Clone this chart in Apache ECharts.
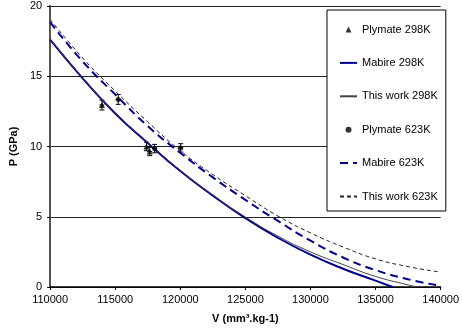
<!DOCTYPE html>
<html>
<head>
<meta charset="utf-8">
<script src="https://cdn.jsdelivr.net/npm/echarts@6/dist/echarts.min.js"></script>
<style>
  html, body { margin: 0; padding: 0; background: #fff; }
  #chart { width: 462px; height: 335px; }
</style>
</head>
<body>
<div id="chart"></div>
<script>
// P (GPa) against specific volume V (mm3/kg)
const xTicks = [110000, 115000, 120000, 125000, 130000, 135000, 140000];
const yTicks = [0, 5, 10, 15, 20];

// experimental points: [V, P, error in P]
const plymate298 = [[113980, 12.95, 0.35], [117400, 10.0, 0.3], [117650, 9.65, 0.3]];
const plymate623 = [[115230, 13.35, 0.35], [118030, 9.85, 0.3], [120030, 9.9, 0.3]];

const mabire298 = [
  [110000, 17.6], [112500, 14.85], [115000, 12.35], [117500, 10.25], [120000, 8.25],
  [122500, 6.5], [125000, 4.9], [127500, 3.5], [130000, 2.3], [132500, 1.3],
  [135000, 0.45], [136300, 0]
];
const thisWork298 = [
  [110000, 17.65], [112500, 14.9], [115000, 12.4], [117500, 10.3], [120000, 8.3],
  [122500, 6.55], [125000, 4.98], [127500, 3.62], [130000, 2.5], [132500, 1.6],
  [135000, 0.75], [137500, 0.15], [138200, 0]
];
const mabire623 = [
  [110000, 18.85], [112500, 16.05], [115000, 13.7], [117500, 11.45], [120000, 9.55],
  [122500, 7.8], [125000, 6.2], [127500, 4.7], [130000, 3.3], [132500, 2.1],
  [135000, 1.2], [137500, 0.55], [140000, 0.08]
];
const thisWork623 = [
  [110000, 19.05], [112500, 16.3], [115000, 13.95], [117500, 11.75], [120000, 9.7],
  [122500, 8.0], [125000, 6.5], [127500, 5.05], [130000, 3.85], [132500, 2.85],
  [135000, 2.0], [137500, 1.45], [140000, 1.06]
];

const legendNames = ["Plymate 298K", "Mabire 298K", "This work 298K", "Plymate 623K", "Mabire 623K", "This work 623K"];
const legendIcons = { "Plymate 298K": "path://M0,6L3,0L6,6Z", "Plymate 623K": "circle" };

const blue = "#000090";
const font = "Liberation Sans, Arial, sans-serif";

// vertical error bars with small caps
function errorBars(data) {
  return {
    type: "custom",
    silent: true,
    data: data,
    encode: { x: 0, y: 1 },
    renderItem: (params, api) => {
      const v = api.value(0);
      const p = api.value(1);
      const e = api.value(2);
      const top = api.coord([v, p + e]);
      const bot = api.coord([v, p - e]);
      const mid = api.coord([v, p]);
      const style = { stroke: "#000", lineWidth: 1 };
      return {
        type: "group",
        children: [
          { type: "line", shape: { x1: top[0], y1: top[1], x2: bot[0], y2: bot[1] }, style },
          { type: "line", shape: { x1: top[0] - 2.5, y1: top[1], x2: top[0] + 2.5, y2: top[1] }, style },
          { type: "line", shape: { x1: bot[0] - 2.5, y1: bot[1], x2: bot[0] + 2.5, y2: bot[1] }, style },
          { type: "line", shape: { x1: mid[0] - 2.5, y1: mid[1], x2: mid[0] + 2.5, y2: mid[1] }, style }
        ]
      };
    },
    z: 3
  };
}

const chart = echarts.init(document.getElementById("chart"));

chart.setOption({
  animation: false,
  textStyle: { fontFamily: font },
  grid: { left: 47, right: 17, top: 6, bottom: 48 },
  legend: {
    // line entries: hide the marker that echarts puts in the middle of the line icon
    data: legendNames.map(n => legendIcons[n] ? { name: n, icon: legendIcons[n] } : { name: n, itemStyle: { opacity: 0 } }),
    orient: "vertical",
    left: 327,
    top: 10,
    itemWidth: 17,
    itemHeight: 6,
    itemGap: 22.4,
    symbolKeepAspect: true,
    padding: [14, 8, 9, 12],
    backgroundColor: "#fff",
    borderColor: "#000",
    borderWidth: 1,
    textStyle: { fontSize: 11, color: "#000", fontFamily: font },
    selectedMode: false
  },
  xAxis: {
    type: "value",
    min: xTicks[0],
    max: xTicks[xTicks.length - 1],
    interval: 5000,
    name: "V (mm³.kg-1)",
    nameLocation: "middle",
    nameGap: 26,
    nameTextStyle: { fontWeight: "bold", fontSize: 11, color: "#000", fontFamily: font },
    axisLine: { lineStyle: { color: "#000", width: 1.5 } },
    axisTick: { length: 3, lineStyle: { color: "#000" } },
    axisLabel: { fontSize: 11, color: "#000", margin: 7, fontFamily: font, formatter: v => String(v) },
    splitLine: { show: false }
  },
  yAxis: {
    type: "value",
    min: yTicks[0],
    max: yTicks[yTicks.length - 1],
    interval: 5,
    name: "P (GPa)",
    nameLocation: "middle",
    nameGap: 31,
    nameTextStyle: { fontWeight: "bold", fontSize: 11, color: "#000", fontFamily: font },
    axisLine: { show: true, lineStyle: { color: "#555", width: 2 } },
    axisTick: { show: true, length: 3, lineStyle: { color: "#000" } },
    axisLabel: { fontSize: 11, color: "#000", margin: 8, fontFamily: font },
    splitLine: { show: true, lineStyle: { color: "#222", width: 1.2 } }
  },
  series: [
    {
      name: "Plymate 298K",
      type: "scatter",
      symbol: "triangle",
      symbolSize: 6,
      itemStyle: { color: "#000" },
      data: plymate298.map(d => [d[0], d[1]]),
      z: 4
    },
    {
      name: "Mabire 298K",
      type: "line",
      smooth: true,
      showSymbol: false,
      symbol: "none",
      itemStyle: { color: blue },
      lineStyle: { color: blue, width: 2 },
      data: mabire298
    },
    {
      name: "This work 298K",
      type: "line",
      smooth: true,
      showSymbol: false,
      symbol: "none",
      itemStyle: { color: "#444" },
      lineStyle: { color: "#444", width: 1 },
      data: thisWork298
    },
    {
      name: "Plymate 623K",
      type: "scatter",
      symbol: "circle",
      symbolSize: 5,
      itemStyle: { color: "#000" },
      data: plymate623.map(d => [d[0], d[1]]),
      z: 4
    },
    {
      name: "Mabire 623K",
      type: "line",
      smooth: true,
      showSymbol: false,
      symbol: "none",
      itemStyle: { color: blue },
      lineStyle: { color: blue, width: 2, type: [8, 5] },
      data: mabire623
    },
    {
      name: "This work 623K",
      type: "line",
      smooth: true,
      showSymbol: false,
      symbol: "none",
      itemStyle: { color: "#222" },
      lineStyle: { color: "#222", width: 1, type: [4, 3] },
      data: thisWork623
    },
    errorBars(plymate298),
    errorBars(plymate623)
  ]
});
</script>
</body>
</html>
